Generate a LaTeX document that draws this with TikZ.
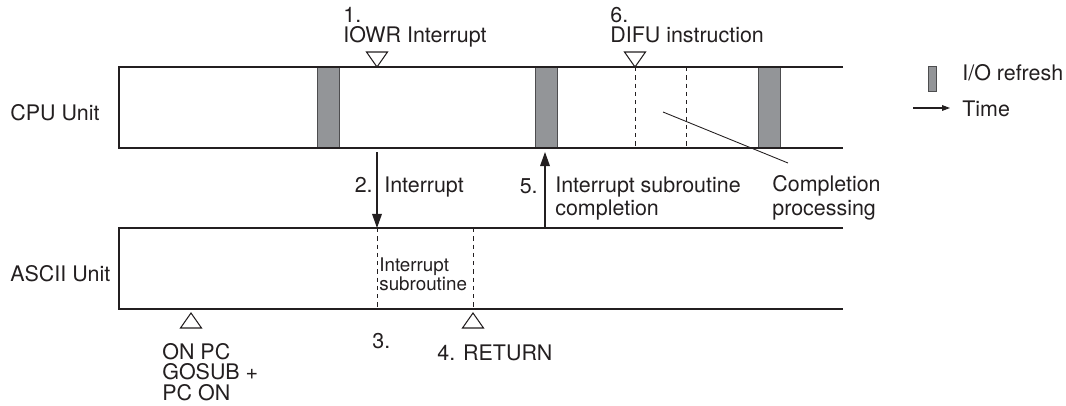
\documentclass[tikz,border=0pt]{standalone}
\usepackage{fontspec}
\setmainfont{TeX Gyre Heros}
\usetikzlibrary{arrows.meta}
\definecolor{inkline}{HTML}{231F20}
\definecolor{refreshfill}{HTML}{939598}
\definecolor{refreshborder}{HTML}{4D4D4F}
\newcommand\lbl{\fontsize{12.2}{13}\selectfont}
\newcommand\lbltight{\fontsize{12.2}{11.6}\selectfont}
\newcommand\lblsmall{\fontsize{10.7}{10.8}\selectfont}
\def\barw{0.44cm}
\def\barh{1.62cm}
\tikzset{
  lane/.style={draw=inkline, line width=1.2pt},
  slot/.style={draw=inkline, line width=0.55pt, dash pattern=on 2.5pt off 2.2pt},
  refresh/.style={rectangle, draw=refreshborder, fill=refreshfill, line width=0.5pt,
                  minimum width=\barw, minimum height=\barh, inner sep=0pt},
  tri/.style={draw=inkline, line width=0.6pt, fill=white},
  txt/.style={font=\lbl, text=inkline, inner sep=0pt, align=left},
  flow/.style={-{Triangle[length=8pt,width=5.5pt]}, line width=0.7pt, draw=inkline},
  leader/.style={draw=inkline, line width=0.5pt},
}
\newcommand\downmark[1]{\draw[tri] (#1) -- ++(-10.5,-15) -- ++(21,0) -- cycle;}
\newcommand\upmark[1]{\draw[tri] (#1) -- ++(-10.5,15) -- ++(21,0) -- cycle;}

\begin{document}
\begin{tikzpicture}[x=0.02cm, y=-0.02cm]
\useasboundingbox (0,0) rectangle (1066,406);

% I/O refresh periods of the CPU Unit
\node[refresh] (io1) at (328,107.5) {};
\node[refresh] (io2) at (546,107.5) {};
\node[refresh] (io3) at (769.5,107.5) {};

% Lanes
\draw[lane] (843,67) -- (119,67) -- (119,148) -- (843,148);
\draw[lane] (843,228) -- (119,228) -- (119,309) -- (843,309);
\node[txt, anchor=base west] (cpulbl) at (10,120) {CPU Unit};
\node[txt, anchor=base west] (asciilbl) at (10,281) {ASCII Unit};

% Instruction points
\coordinate (iowr) at (377,67);
\coordinate (difu) at (635,67);
\coordinate (onpc) at (191,313);
\coordinate (ret) at (473,313);
\downmark{iowr}
\downmark{difu}
\upmark{onpc}
\upmark{ret}

% Dashed boundaries
\draw[slot] (635,67) -- (635,148);
\draw[slot] (686,67) -- (686,148);
\draw[slot] (377,228) -- (377,309);
\draw[slot] (473,228) -- (473,309);

% Step labels
\node[txt, font=\lbltight, anchor=north west] (iowrlbl) at (343,7) {1.\\IOWR Interrupt};
\node[txt, font=\lbltight, anchor=north west] (difulbl) at (610,7) {6.\\DIFU instruction};
\node[txt, anchor=base west] (step3) at (372,348) {3.};
\node[txt, anchor=base west] (retlbl) at (437,360) {4. RETURN};
\node[txt, font=\fontsize{12.2}{11.7}\selectfont, anchor=north west] (onpclbl) at (162,343)
  {ON PC\\GOSUB +\\PC ON};
\node[txt, font=\lblsmall, anchor=north west] (sublbl) at (379,257) {Interrupt\\subroutine};

% Interrupt and completion
\coordinate (irqA) at (377,152);
\coordinate (irqB) at (377,228);
\coordinate (cmpA) at (545,228);
\coordinate (cmpB) at (545,152);
\draw[flow] (irqA) -- (irqB);
\draw[flow] (cmpA) -- (cmpB);
\node[txt, anchor=base east] (step2) at (373,192) {2.};
\node[txt, anchor=base west] (irqlbl) at (384,192) {Interrupt};
\node[txt, anchor=base east] (step5) at (538,193) {5.};
\node[txt, anchor=north west] (cmplbl) at (555,177) {Interrupt subroutine\\completion};

% Completion processing note
\node[txt, font=\fontsize{12.2}{13.6}\selectfont, anchor=north west] (proclbl) at (772,175)
  {Completion\\processing};
\coordinate (procA) at (663,112);
\coordinate (procB) at (788,163);
\draw[leader] (procA) -- (procB);

% Legend
\node[refresh, minimum width=0.16cm, minimum height=0.5cm] (keybar) at (932,78.5) {};
\node[txt, anchor=base west] (keyio) at (962,80) {I/O refresh};
\coordinate (timeA) at (913,108);
\coordinate (timeB) at (950,108);
\draw[-{Triangle[length=4.5pt,width=3.2pt]}, line width=0.6pt, draw=inkline] (timeA) -- (timeB);
\node[txt, anchor=base west] (keytime) at (962,116) {Time};

\end{tikzpicture}
\end{document}
